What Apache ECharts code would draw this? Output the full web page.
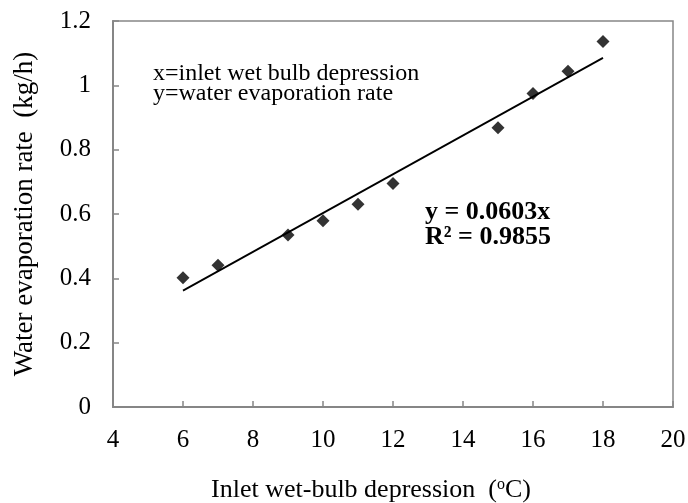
<!DOCTYPE html>
<html>
<head>
<meta charset="utf-8">
<script src="https://cdn.jsdelivr.net/npm/echarts@6/dist/echarts.min.js"></script>
<style>
html,body{margin:0;padding:0;background:#fff;}
#chart{width:688px;height:503px;}
</style>
</head>
<body>
<div id="chart"></div>
<script>
// Data
const xValues = [6, 7, 9, 10, 11, 12, 15, 16, 17, 18];
const yValues = [0.402, 0.441, 0.535, 0.579, 0.630, 0.695, 0.868, 0.975, 1.044, 1.136];
const trendSlope = 0.0603;
const trendXRange = [6, 18];
const xTicks = [4, 6, 8, 10, 12, 14, 16, 18, 20];
const yTicks = [0, 0.2, 0.4, 0.6, 0.8, 1, 1.2];
const legendLines = ['x=inlet wet bulb depression', 'y=water evaporation rate'];
const eqLines = ['y = 0.0603x', 'R\u00B2 = 0.9855'];

const font = '"Liberation Serif", "Times New Roman", serif';
const axisColor = '#868686';

const points = xValues.map((x, i) => [x, yValues[i]]);
const trend = trendXRange.map(x => [x, +(trendSlope * x).toFixed(4)]);

const chart = echarts.init(document.getElementById('chart'), null, {renderer: 'canvas'});
chart.setOption({
  animation: false,
  backgroundColor: '#fff',
  grid: {left: 113, right: 15, top: 21, bottom: 96, show: true, borderColor: axisColor, borderWidth: 1.5,
         containLabel: false, outerBoundsMode: 'none'},
  xAxis: {
    type: 'value', min: xTicks[0], max: xTicks[xTicks.length - 1], interval: 2,
    axisLine: {show: true, lineStyle: {color: axisColor, width: 2}},
    axisTick: {show: true, inside: true, length: 6, lineStyle: {color: axisColor, width: 1.5}},
    splitLine: {show: false},
    axisLabel: {fontFamily: font, fontSize: 25, color: '#000', margin: 21},
    name: '{a|Inlet wet-bulb depression\u00A0\u00A0(}{s|o}{a|C)}',
    nameLocation: 'middle', nameGap: 70,
    nameTextStyle: {
      padding: [0, 44, 0, 0],
      rich: {
        a: {fontFamily: font, fontSize: 26, color: '#000'},
        s: {fontFamily: font, fontSize: 16, color: '#000', padding: [0, 0, 10, 0]}
      }
    }
  },
  yAxis: {
    type: 'value', min: yTicks[0], max: yTicks[yTicks.length - 1], interval: 0.2,
    axisLine: {show: true, lineStyle: {color: axisColor, width: 2}},
    axisTick: {show: true, inside: true, length: 6, lineStyle: {color: axisColor, width: 1.5}},
    splitLine: {show: false},
    axisLabel: {fontFamily: font, fontSize: 25, color: '#000', margin: 22},
    name: 'Water evaporation rate\u00A0\u00A0(kg/h)',
    nameLocation: 'middle', nameGap: 75, nameRotate: 90,
    nameTextStyle: {fontFamily: font, fontSize: 27, color: '#000'}
  },
  series: [
    {
      type: 'line', data: trend, symbol: 'none', silent: true,
      lineStyle: {color: '#000', width: 1.8}, z: 2
    },
    {
      type: 'scatter', data: points, symbol: 'diamond', symbolSize: 13,
      itemStyle: {color: '#000'}, z: 3
    }
  ],
  graphic: [
    {type: 'text', left: 153, top: 62, style: {text: legendLines.join('\n'), fontFamily: font, fontSize: 24, lineHeight: 20, fill: '#000'}},
    {type: 'text', left: 425, top: 199, style: {text: eqLines.join('\n'), fontFamily: font, fontSize: 26, fontWeight: 'bold', lineHeight: 25, fill: '#000'}}
  ]
});
</script>
</body>
</html>
